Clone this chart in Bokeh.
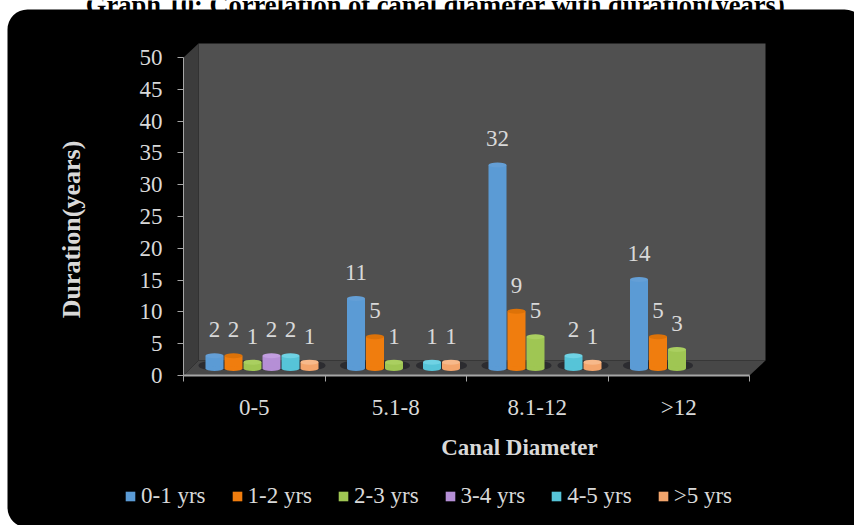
from bokeh.core.properties import value
from bokeh.embed import file_html
from bokeh.models import BoxAnnotation, FixedTicker, Label, Legend, LegendItem, Range1d
from bokeh.plotting import figure
from bokeh.resources import INLINE

TITLE = "Graph 10: Correlation of canal diameter with duration(years)"
X_TITLE = "Canal Diameter"
Y_TITLE = "Duration(years)"
CATEGORIES = ["0-5", "5.1-8", "8.1-12", ">12"]
SERIES = ["0-1 yrs", "1-2 yrs", "2-3 yrs", "3-4 yrs", "4-5 yrs", ">5 yrs"]
VALUES_0_1 = [2, 11, 32, 14]
VALUES_1_2 = [2, 5, 9, 5]
VALUES_2_3 = [1, 1, 5, 3]
VALUES_3_4 = [2, 0, 0, 0]
VALUES_4_5 = [2, 1, 2, 0]
VALUES_OVER_5 = [1, 1, 1, 0]
ALL_VALUES = [VALUES_0_1, VALUES_1_2, VALUES_2_3, VALUES_3_4, VALUES_4_5, VALUES_OVER_5]
BODY_COLORS = ["#5b9bd5", "#f07d0e", "#9fc653", "#b58fd6", "#56c4d8", "#f3a56c"]
CAP_COLORS = ["#649fd6", "#dd7208", "#aacf60", "#c29ee0", "#6fd2e4", "#f7b98a"]
Y_TICKS = list(range(0, 55, 5))

W, H = 854, 525
AXIS_X, AXIS_Y = 183, 375
CAT_PX = 141.5
UNIT_PX = 6.36


def dx(px):
    return (px - AXIS_X) / CAT_PX


def dy(px):
    return (AXIS_Y - px) / UNIT_PX


SERIF = "Liberation Serif"
INK = "#d9d9d9"
RULE = "#a6a6a6"

# The frame fills the page, so the box walls and texts around the axes are not clipped
p = figure(
    width=W, height=H, output_backend="svg", toolbar_location=None,
    x_range=Range1d(dx(0), dx(W)), y_range=Range1d(dy(H), dy(0)),
    min_border=0, background_fill_color="white", border_fill_color="white", outline_line_color=None,
)
p.grid.visible = False

# Heading running off the top of the page, then the rounded panel
p.add_layout(Label(x=dx(435), y=dy(4), text=TITLE, text_align="center", text_baseline="alphabetic",
                   text_font=SERIF, text_font_style="bold", text_font_size="26.5px", text_color="black",
                   level="underlay"))
p.add_layout(BoxAnnotation(left=dx(7), right=dx(866), top=dy(9), bottom=dy(527), fill_color="black",
                           fill_alpha=1, line_color=None, border_radius=(20, 22, 0, 20), level="underlay"))

# Chart box: back wall, side wall, floor
p.patch([dx(198), dx(765), dx(765), dx(198)], [dy(43), dy(43), dy(360), dy(360)],
        fill_color="#505050", line_color=None)
p.patch([dx(183), dx(198), dx(198), dx(183)], [dy(57), dy(43), dy(360), dy(375)],
        fill_color="#3c3c3c", line_color=None)
p.patch([dx(183), dx(198), dx(765), dx(749)], [dy(375), dy(360), dy(360), dy(375)],
        fill_color="#474747", line_color=None)

# Cylinders stand in the middle of the floor; each sits a little right of its category centre
BASE = dy(368)
BAR_W = 18 / CAT_PX
CAP_H = 5 / UNIT_PX
STEP = 19 / CAT_PX
FIRST = dx(214) - 0.5
LABEL_RISE = 26


def bar_x(series_index, vals):
    return [c + 0.5 + FIRST + series_index * STEP for c, v in enumerate(vals) if v > 0]


for i, vals in enumerate(ALL_VALUES):
    xs = bar_x(i, vals)
    p.ellipse(xs, [dy(365)] * len(xs), width=32 / CAT_PX, height=10 / UNIT_PX, fill_color="#2c2c30", line_color=None)

items = []
for i, (name, vals) in enumerate(zip(SERIES, ALL_VALUES)):
    xs = bar_x(i, vals)
    tops = [BASE + v for v in vals if v > 0]
    labels = [str(v) for v in vals if v > 0]
    r = p.vbar(xs, width=BAR_W, bottom=BASE, top=tops, fill_color=BODY_COLORS[i], line_color=None)
    p.ellipse(xs, [BASE] * len(xs), width=BAR_W, height=CAP_H, fill_color=BODY_COLORS[i], line_color=None)
    p.ellipse(xs, tops, width=BAR_W, height=CAP_H, fill_color=CAP_COLORS[i], line_color=None)
    p.text(xs, tops, text=labels, text_align="center", text_baseline="middle", y_offset=-LABEL_RISE,
           text_font=value(SERIF), text_font_size="23px", text_color=INK)
    items.append(LegendItem(label=name, renderers=[r]))

# Axes, pinned to the data origin
p.yaxis.fixed_location = 0
p.yaxis.ticker = FixedTicker(ticks=Y_TICKS)
p.yaxis.bounds = (0, 50)
p.yaxis.axis_line_color = RULE
p.yaxis.major_tick_line_color = RULE
p.yaxis.major_tick_out = 6
p.yaxis.major_tick_in = 0
p.yaxis.minor_tick_line_color = None
p.yaxis.major_label_text_color = INK
p.yaxis.major_label_text_font = SERIF
p.yaxis.major_label_text_font_size = "23px"
p.yaxis.major_label_standoff = 15

p.xaxis.fixed_location = 0
p.xaxis.ticker = FixedTicker(ticks=[0.5, 1.5, 2.5, 3.5], minor_ticks=[0, 1, 2, 3, 4])
p.xaxis.major_label_overrides = {0.5: CATEGORIES[0], 1.5: CATEGORIES[1], 2.5: CATEGORIES[2], 3.5: CATEGORIES[3]}
p.xaxis.bounds = (0, 4)
p.xaxis.axis_line_color = RULE
p.xaxis.axis_line_width = 2
p.xaxis.major_tick_line_color = None
p.xaxis.minor_tick_line_color = RULE
p.xaxis.minor_tick_out = 6
p.xaxis.minor_tick_in = 0
p.xaxis.major_label_text_color = INK
p.xaxis.major_label_text_font = SERIF
p.xaxis.major_label_text_font_size = "23px"
p.xaxis.major_label_standoff = 13

p.add_layout(Label(x=dx(519), y=dy(447), text=X_TITLE, text_align="center", text_baseline="middle",
                   text_font=SERIF, text_font_style="bold", text_font_size="23px", text_color=INK))
p.add_layout(Label(x=dx(71), y=dy(229), text=Y_TITLE, text_align="center", text_baseline="middle", angle=1.5708,
                   text_font=SERIF, text_font_style="bold", text_font_size="26px", text_color=INK))

legend = Legend(items=items, orientation="horizontal", location=(124, 16), background_fill_alpha=0,
                border_line_color=None, glyph_width=12, glyph_height=12, label_standoff=5, spacing=25,
                label_text_color=INK, label_text_font=SERIF, label_text_font_size="23px", margin=0, padding=0)
p.add_layout(legend)

open("out.html", "w").write(file_html(p, INLINE))
